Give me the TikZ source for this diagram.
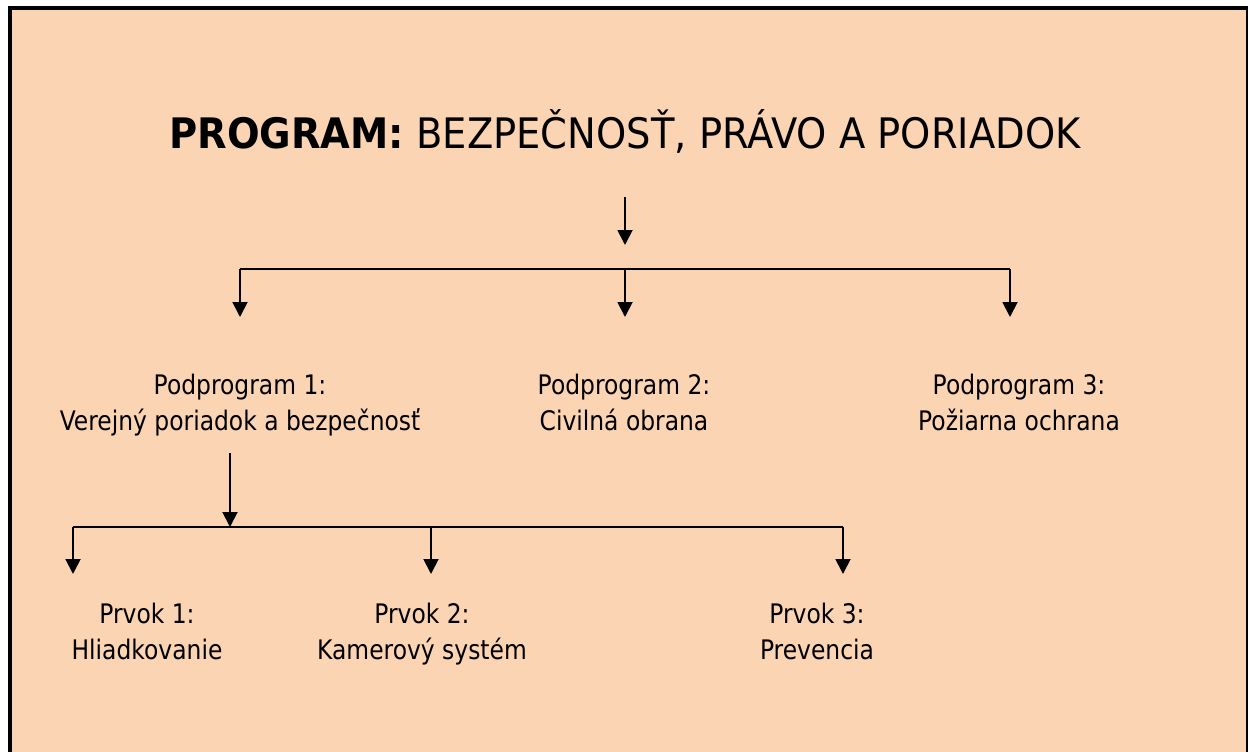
\documentclass[tikz,border=0pt]{standalone}
\usepackage{fontspec}
\setmainfont[FakeStretch=0.87]{DejaVu Sans}
\newfontfamily\titlefont[FakeStretch=0.915]{DejaVu Sans}
\usetikzlibrary{arrows.meta}
\definecolor{bgpeach}{HTML}{FBD4B4}
\begin{document}
\begin{tikzpicture}[x=1pt,y=-1pt,
  conn/.style={line width=1.9pt},
  arr/.style={conn,-{Triangle[width=15pt,length=15pt]}},
  lbl/.style={align=center,inner sep=0pt,anchor=base,font=\fontsize{26.9}{35.8}\selectfont},
  titlestyle/.style={inner sep=0pt,anchor=base,font=\titlefont\fontsize{42}{50}\selectfont}]
\useasboundingbox (0,0) rectangle (1248,752);
\fill[bgpeach] (10,8) rectangle (1248,752);
\draw[line width=4pt] (10,752) -- (10,8) -- (1248,8) -- (1248,752);

\node[titlestyle] (title) at (625,148) {\textbf{PROGRAM:} BEZPEČNOSŤ, PRÁVO A PORIADOK};

% multi-line nodes: base anchor = baseline of the last line
\node[lbl] (p1) at (240,430) {Podprogram 1:\\Verejný poriadok a bezpečnosť};
\node[lbl] (p2) at (624,430) {Podprogram 2:\\Civilná obrana};
\node[lbl] (p3) at (1019,430) {Podprogram 3:\\Požiarna ochrana};

\node[lbl] (e1) at (147,659) {Prvok 1:\\Hliadkovanie};
\node[lbl] (e2) at (422,659) {Prvok 2:\\Kamerový systém};
\node[lbl] (e3) at (817,659) {Prvok 3:\\Prevencia};

% top level connectors
\coordinate (t0) at (625,197);
\coordinate (t1) at (625,245);
\coordinate (bl) at (240,269);
\coordinate (bm) at (625,269);
\coordinate (br) at (1010,269);
\coordinate (tl) at (240,317);
\coordinate (tm) at (625,317);
\coordinate (tr) at (1010,317);
\draw[arr] (t0) -- (t1);
\draw[conn] (bl) -- (br);
\draw[arr] (bl) -- (tl);
\draw[arr] (bm) -- (tm);
\draw[arr] (br) -- (tr);

% second level connectors
\coordinate (s0) at (230,453);
\coordinate (s1) at (230,527);
\coordinate (cl) at (73,527);
\coordinate (cm) at (431,527);
\coordinate (cr) at (843,527);
\coordinate (ul) at (73,574);
\coordinate (um) at (431,574);
\coordinate (ur) at (843,574);
\draw[arr] (s0) -- (s1);
\draw[conn] (cl) -- (cr);
\draw[arr] (cl) -- (ul);
\draw[arr] (cm) -- (um);
\draw[arr] (cr) -- (ur);
\end{tikzpicture}
\end{document}
